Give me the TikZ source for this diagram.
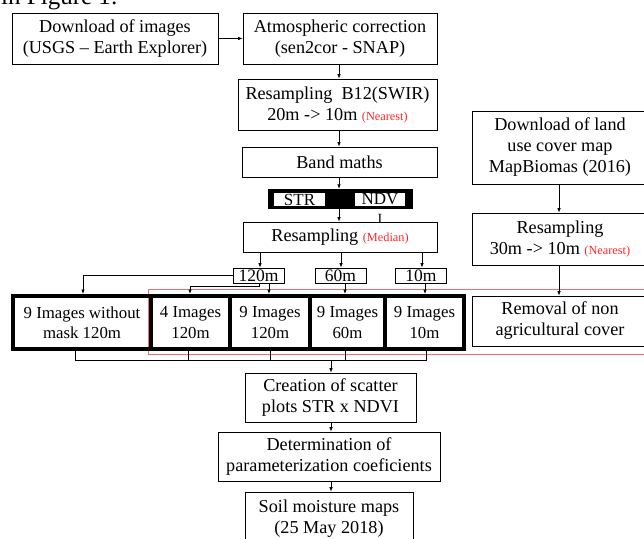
\documentclass[tikz,border=0pt]{standalone}
\usepackage{fontspec}
\setmainfont{Liberation Serif}
\usetikzlibrary{arrows.meta}
\definecolor{lred}{RGB}{240,110,110}
\definecolor{tred}{RGB}{250,40,40}
\newcommand{\redtag}[1]{{\color{tred}\fontsize{12.3}{12.3}\selectfont #1}}
\begin{document}
\begin{tikzpicture}[x=1pt,y=-1pt,
  box/.style={draw, line width=0.8pt, align=center, inner sep=0pt, font=\fontsize{18.2}{21}\selectfont},
  smallbox/.style={draw, line width=0.8pt, inner sep=0pt, minimum width=51, minimum height=15, font=\fontsize{17.5}{17.5}\selectfont},
  cell/.style={draw, line width=4pt, align=center, inner sep=0pt, minimum height=53, font=\fontsize{16.8}{20.5}\selectfont},
  arr/.style={line width=0.7pt, -{Latex[length=4.5pt,width=3.5pt]}},
  ln/.style={line width=0.7pt}]
\useasboundingbox (0,0) rectangle (644,538);

\node[anchor=base west, inner sep=0pt, font=\fontsize{25}{25}\selectfont] (cap) at (1,5) {in Figure 1:};

\node[box, minimum width=206, minimum height=51] (dl) at (115,38.5) {Download of images\\(USGS – Earth Explorer)};
\node[box, minimum width=194, minimum height=51] (atm) at (340,38.5) {Atmospheric correction\\(sen2cor - SNAP)};
\node[box, minimum width=199, minimum height=51] (res1) at (337.5,104.5) {Resampling\ \ B12(SWIR)\\20m -> 10m \redtag{(Nearest)}};
\node[box, minimum width=195, minimum height=30] (band) at (339.5,162) {Band maths};

\node[fill=black, minimum width=145, minimum height=20, inner sep=0pt] (bar) at (340.5,199) {};
\node[fill=white, minimum width=51, minimum height=13, inner sep=0pt, font=\fontsize{17}{17}\selectfont] (str) at (299.5,199.5) {STR};
\node[fill=white, minimum width=50, minimum height=13, inner sep=0pt, font=\fontsize{17}{17}\selectfont] (ndv) at (380,199.5) {NDV};
\node[inner sep=0pt, font=\fontsize{14}{14}\selectfont] (imark) at (380,218.5) {I};

\node[box, minimum width=194, minimum height=30] (resm) at (340,237) {Resampling \redtag{(Median)}};

\node[smallbox] (b120) at (258.5,275.5) {120m};
\node[smallbox] (b60) at (340.5,275.5) {60m};
\node[smallbox] (b10) at (421,275.5) {10m};

\draw[lred, line width=0.9pt] (660,289) -- (148,289) -- (148,354) -- (660,354);

\node[cell, minimum width=138] (c1) at (82,322.5) {9 Images without\\mask 120m};
\node[cell, minimum width=79] (c2) at (190.5,322.5) {4 Images\\120m};
\node[cell, minimum width=80] (c3) at (270,322.5) {9 Images\\120m};
\node[cell, minimum width=75] (c4) at (347.5,322.5) {9 Images\\60m};
\node[cell, minimum width=79] (c5) at (424.5,322.5) {9 Images\\10m};

\node[box, minimum width=176, minimum height=73] (land) at (560,147.5) {Download of land\\use cover map\\MapBiomas (2016)};
\node[box, minimum width=176, minimum height=52] (resr) at (560,239) {Resampling\\30m -> 10m \redtag{(Nearest)}};
\node[box, minimum width=176, minimum height=50] (rem) at (560,321) {Removal of non\\agricultural cover};

\node[box, minimum width=171, minimum height=49] (create) at (330.5,397.5) {Creation of scatter\\plots STR x NDVI};
\node[box, minimum width=222, minimum height=49] (det) at (329,456.5) {Determination of\\parameterization coeficients};
\node[box, minimum width=168, minimum height=54] (soil) at (329,519) {Soil moisture maps\\(25 May 2018)};

% connectors
\draw[arr] (dl.east) -- (atm.west);
\draw[arr] (atm.south -| 339,0) -- (res1.north -| 339,0);
\draw[arr] (res1.south -| 339,0) -- (band.north -| 339,0);
\draw[arr] (band.south -| 339,0) -- (bar.north -| 339,0);
\draw[arr] (bar.south -| 339,0) -- (resm.north -| 339,0);

\draw[arr] (resm.south -| 260,0) -- (b120.north -| 260,0);
\draw[arr] (resm.south -| 341,0) -- (b60.north -| 341,0);
\draw[arr] (resm.south -| 422,0) -- (b10.north -| 422,0);

\draw[arr] (b120.west) -| (c1.north -| 83,0);
\draw[arr] (b120.south -| 259,0) -- (259,286) -- (190,286) -- (c2.north -| 190,0);
\draw[arr] (b120.south -| 269,0) -- (c3.north -| 269,0);
\draw[arr] (b60.south -| 345,0) -- (c4.north -| 345,0);
\draw[arr] (b10.south -| 425,0) -- (c5.north -| 425,0);

\draw[arr] (land.south -| 559,0) -- (resr.north -| 559,0);
\draw[arr] (resr.south -| 559,0) -- (rem.north -| 559,0);

\coordinate (mL) at (75,360);
\coordinate (mR) at (426,360);
\draw[ln] (c1.south -| mL) -- (mL) -- (mR) -- (c5.south -| mR);
\draw[ln] (c2.south -| 188,0) -- (188,360);
\draw[ln] (c3.south -| 270,0) -- (270,360);
\draw[ln] (c4.south -| 345,0) -- (345,360);
\draw[arr] (331,360) -- (create.north -| 331,0);
\draw[arr] (create.south -| 331,0) -- (det.north -| 331,0);
\draw[arr] (det.south -| 331,0) -- (soil.north -| 331,0);
\end{tikzpicture}
\end{document}
